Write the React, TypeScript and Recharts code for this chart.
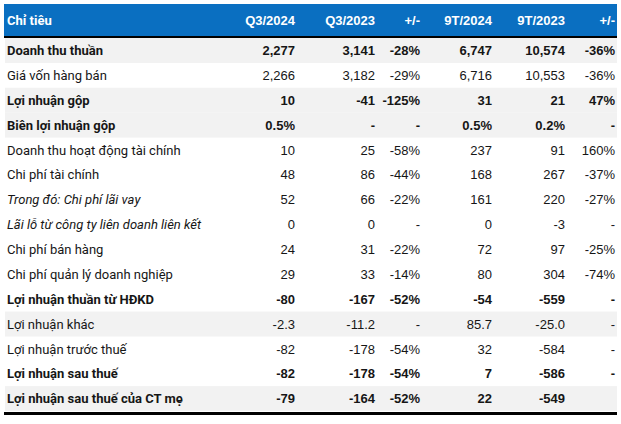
import React from 'react';
import { ComposedChart, XAxis, YAxis, Bar } from 'recharts';

// Row labels (Vietnamese income statement, bn VND)
const ROWS = [
  'Doanh thu thuần',
  'Giá vốn hàng bán',
  'Lợi nhuận gộp',
  'Biên lợi nhuận gộp',
  'Doanh thu hoạt động tài chính',
  'Chi phí tài chính',
  'Trong đó: Chi phí lãi vay',
  'Lãi lỗ từ công ty liên doanh liên kết',
  'Chi phí bán hàng',
  'Chi phí quản lý doanh nghiệp',
  'Lợi nhuận thuần từ HĐKD',
  'Lợi nhuận khác',
  'Lợi nhuận trước thuế',
  'Lợi nhuận sau thuế',
  'Lợi nhuận sau thuế của CT mẹ',
];

const HEADERS = ['Chỉ tiêu', 'Q3/2024', 'Q3/2023', '+/-', '9T/2024', '9T/2023', '+/-'];

const Q3_2024 = ['2,277', '2,266', '10', '0.5%', '10', '48', '52', '0', '24', '29', '-80', '-2.3', '-82', '-82', '-79'];
const Q3_2023 = ['3,141', '3,182', '-41', '-', '25', '86', '66', '0', '31', '33', '-167', '-11.2', '-178', '-178', '-164'];
const Q3_CHG = ['-28%', '-29%', '-125%', '-', '-58%', '-44%', '-22%', '-', '-22%', '-14%', '-52%', '-', '-54%', '-54%', '-52%'];
const YTD_2024 = ['6,747', '6,716', '31', '0.5%', '237', '168', '161', '0', '72', '80', '-54', '85.7', '32', '7', '22'];
const YTD_2023 = ['10,574', '10,553', '21', '0.2%', '91', '267', '220', '-3', '97', '304', '-559', '-25.0', '-584', '-586', '-549'];
const YTD_CHG = ['-36%', '-36%', '47%', '-', '160%', '-37%', '-27%', '-', '-25%', '-74%', '-', '-', '-', '-', ''];

const COLUMNS = [Q3_2024, Q3_2023, Q3_CHG, YTD_2024, YTD_2023, YTD_CHG];

// row styling
const BOLD_ROWS = [0, 2, 3, 10, 13, 14];
const ITALIC_ROWS = [6, 7];

const W = 621;
const H = 424;
const LEFT = 4;
const RIGHT = 617;
const HEADER_TOP = 4;
const TOP = 38;
const BOTTOM = 411;
const COL_RIGHT = [295, 375, 420, 492, 565, 615];

const BLUE = '#0a6fc1';
const GREY = '#f2f2f2';
const INK = '#161616';
const LABEL_FONT = 'Roboto, sans-serif';
const NUM_FONT = '"Liberation Sans", Arial, sans-serif';

const toNum = (s: string) => {
  const n = parseFloat(s.replace(/[,%]/g, ''));
  return isNaN(n) ? 0 : n;
};

const data = ROWS.map((label, i) => ({
  label,
  q3_2024: toNum(Q3_2024[i]),
}));

// grey band behind the highlighted rows, placed by the category scale
const RowBackground = (props: any) => {
  const { x, y, width, height, index } = props;
  if (!BOLD_ROWS.includes(index)) return null;
  return <rect x={x} y={y} width={width} height={height} fill={GREY} />;
};

const RowTick = (props: any) => {
  const { y, index } = props;
  const bold = BOLD_ROWS.includes(index);
  const italic = ITALIC_ROWS.includes(index);
  const weight = bold ? 700 : 400;
  return (
    <g>
      <text
        x={7}
        y={y}
        dy="0.36em"
        fontFamily={LABEL_FONT}
        fontSize={13}
        fontWeight={weight}
        fontStyle={italic ? 'italic' : 'normal'}
        fill={INK}
      >
        {ROWS[index]}
      </text>
      {COLUMNS.map((col, c) => (
        <text
          key={c}
          x={COL_RIGHT[c]}
          y={y}
          dy="0.36em"
          textAnchor="end"
          fontFamily={NUM_FONT}
          fontSize={13}
          fontWeight={weight}
          fill={INK}
        >
          {col[index]}
        </text>
      ))}
    </g>
  );
};

const Header = () => (
  <g>
    <rect x={LEFT} y={HEADER_TOP} width={RIGHT - LEFT} height={TOP - HEADER_TOP - 2} fill={BLUE} />
    <line x1={LEFT} x2={RIGHT} y1={TOP - 1} y2={TOP - 1} stroke="#000" strokeWidth={2} />
    <text x={7} y={(HEADER_TOP + TOP - 2) / 2} dy="0.36em" fontFamily={LABEL_FONT} fontSize={13} fontWeight={700} fill="#fff">
      {HEADERS[0]}
    </text>
    {HEADERS.slice(1).map((h, c) => (
      <text
        key={c}
        x={COL_RIGHT[c]}
        y={(HEADER_TOP + TOP - 2) / 2}
        dy="0.36em"
        textAnchor="end"
        fontFamily={NUM_FONT}
        fontSize={13}
        fontWeight={700}
        fill="#fff"
      >
        {h}
      </text>
    ))}
    <line x1={LEFT} x2={RIGHT} y1={BOTTOM + 2.5} y2={BOTTOM + 2.5} stroke="#000" strokeWidth={3} />
  </g>
);

export default function App() {
  return (
    <div style={{ position: 'absolute', left: 0, top: 0, width: W, height: H, background: '#fff' }}>
      <ComposedChart
        width={W}
        height={H}
        data={data}
        layout="vertical"
        barCategoryGap={0}
        margin={{ top: TOP, right: W - RIGHT, bottom: H - BOTTOM, left: LEFT }}
      >
        <XAxis type="number" hide />
        <YAxis
          type="category"
          dataKey="label"
          width={1}
          axisLine={false}
          tickLine={false}
          interval={0}
          tick={<RowTick />}
        />
        <Bar
          dataKey="q3_2024"
          fill="none"
          background={<RowBackground />}
          isAnimationActive={false}
        />
        <Header />
      </ComposedChart>
    </div>
  );
}
